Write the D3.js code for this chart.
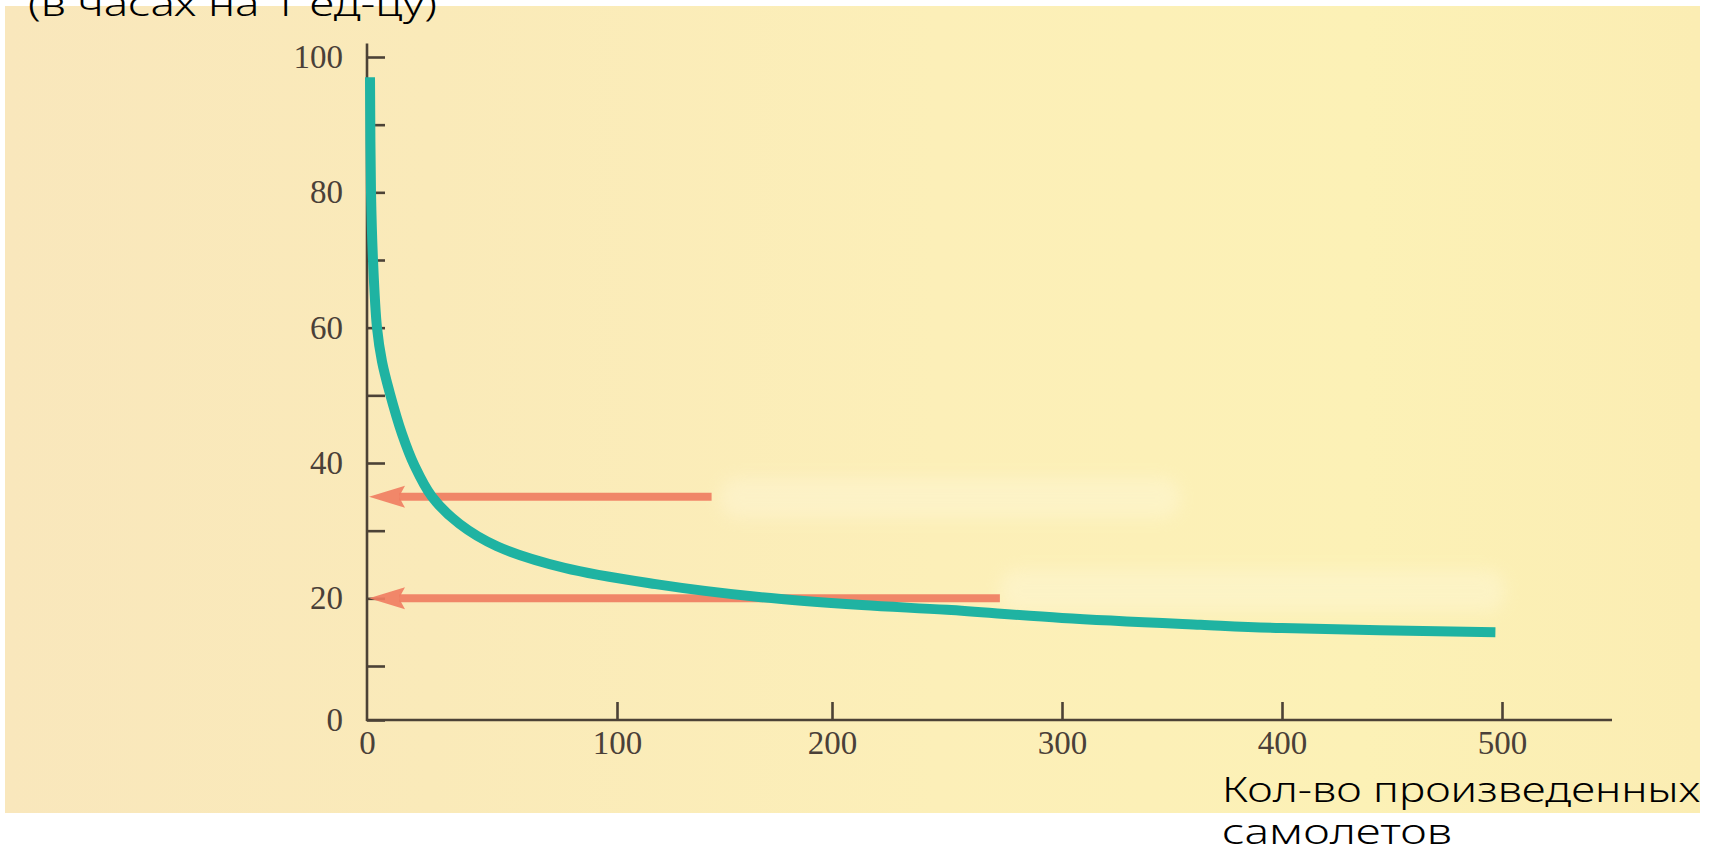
<!DOCTYPE html>
<html>
<head>
<meta charset="utf-8">
<script src="https://cdn.jsdelivr.net/npm/d3@7"></script>
<style>
  html, body { margin: 0; padding: 0; background: #ffffff; overflow: hidden; }
  svg { display: block; }
</style>
</head>
<body>
<svg id="chart" width="1713" height="856"></svg>
<script>
// ---- data ----
const xTicks = [0, 100, 200, 300, 400, 500];
const yTicks = [0, 20, 40, 60, 80, 100];
const yMinorTicks = [10, 30, 50, 70, 90];
// learning curve: hours per unit vs number of planes produced
const units = [1.2, 1.6, 2.4, 4, 6, 9, 14, 19, 26, 37, 52, 79, 118, 166, 213, 250, 300, 363, 400, 497];
const hours = [97, 80, 70, 60, 55, 50.5, 44.3, 39.6, 35, 31, 27.7, 24.5, 22.1, 20.2, 19.0, 18.3, 17.1, 16.1, 15.6, 15.0];
// reading arrows
const arrowLevels = [35, 20];
const arrowFrom = [144, 273];
const titleText = "(в часах на 1 ед-цу)";
const xLabelLines = ["Кол-во произведенных", "самолетов"];

// ---- drawing ----
const svg = d3.select("#chart");

// scanned paper background
const defs = svg.append("defs");
const grad = defs.append("linearGradient").attr("id", "paper")
  .attr("x1", "0%").attr("y1", "0%").attr("x2", "100%").attr("y2", "0%");
[["0%", "#f9e7bc"], ["25%", "#faeab9"], ["55%", "#fcefb8"], ["80%", "#fcf1b6"], ["100%", "#fbedb3"]]
  .forEach(([o, c]) => grad.append("stop").attr("offset", o).attr("stop-color", c));
const blur = defs.append("filter").attr("id", "soft").attr("x", "-20%").attr("y", "-50%").attr("width", "140%").attr("height", "200%");
blur.append("feGaussianBlur").attr("stdDeviation", 8);

svg.append("rect").attr("x", 5).attr("y", 6).attr("width", 1695).attr("height", 807)
  .attr("fill", "url(#paper)");

// faint erased areas on the scan
svg.append("rect").attr("x", 720).attr("y", 478).attr("width", 460).attr("height", 40).attr("rx", 18)
  .attr("fill", "#fffbe6").attr("opacity", 0.32).attr("filter", "url(#soft)");
svg.append("rect").attr("x", 1000).attr("y", 570).attr("width", 505).attr("height", 42).attr("rx", 18)
  .attr("fill", "#fffbe6").attr("opacity", 0.32).attr("filter", "url(#soft)");

const x = d3.scaleLinear().domain(xTicks).range([367, 617, 832, 1062, 1282, 1502]);
const y = d3.scaleLinear().domain([0, 10, 100]).range([720, 666, 57]);

const axisColor = "#4c4236";
const labelFont = "'Liberation Serif', 'DejaVu Serif', serif";

// axis lines
svg.append("line")
  .attr("x1", x(0)).attr("x2", x(0))
  .attr("y1", y(0) + 1).attr("y2", y(102))
  .attr("stroke", axisColor).attr("stroke-width", 2.6);
svg.append("line")
  .attr("x1", x(0) - 1).attr("x2", x(550))
  .attr("y1", y(0)).attr("y2", y(0))
  .attr("stroke", axisColor).attr("stroke-width", 2.6);

// y axis: major (labelled) and minor ticks pointing inward
const yAxisG = svg.append("g").attr("transform", `translate(${x(0)},0)`)
  .call(d3.axisLeft(y).tickValues(yTicks).tickSize(-18).tickSizeOuter(0).tickPadding(24).tickFormat(d3.format("d")));
const yMinorG = svg.append("g").attr("transform", `translate(${x(0)},0)`)
  .call(d3.axisLeft(y).tickValues(yMinorTicks).tickSize(-18).tickSizeOuter(0).tickFormat(""));

// x axis: ticks pointing up, labels below
const xAxisG = svg.append("g").attr("transform", `translate(0,${y(0)})`)
  .call(d3.axisBottom(x).tickValues(xTicks).tickSize(-18).tickSizeOuter(0).tickPadding(11).tickFormat(d3.format("d")));

[yAxisG, yMinorG, xAxisG].forEach(g => {
  g.select(".domain").remove();
  g.selectAll(".tick line").attr("stroke", axisColor).attr("stroke-width", 2.6);
  g.selectAll(".tick text")
    .attr("fill", "#4a4038")
    .style("font-family", labelFont)
    .style("font-size", "33px");
});
xAxisG.selectAll(".tick").filter(d => d === 0).select("line").remove();

// arrows
const arrowColor = "#f07e62";
arrowLevels.forEach((lvl, i) => {
  const yy = y(lvl);
  const tip = x(0) + 2;
  svg.append("line")
    .attr("x1", x(arrowFrom[i])).attr("x2", tip + 30)
    .attr("y1", yy).attr("y2", yy)
    .attr("stroke", arrowColor).attr("stroke-width", 8).attr("opacity", 0.92);
  svg.append("path")
    .attr("d", `M${tip},${yy} L${tip + 36},${yy - 11} L${tip + 30},${yy} L${tip + 36},${yy + 11} Z`)
    .attr("fill", arrowColor).attr("opacity", 0.92);
});

// learning curve
const pts = units.map((u, i) => [u, hours[i]]);
svg.append("path")
  .datum(pts)
  .attr("fill", "none")
  .attr("stroke", "#1fb3a2")
  .attr("stroke-width", 10)
  .attr("stroke-linecap", "butt")
  .attr("stroke-linejoin", "round")
  .attr("d", d3.line().x(d => x(d[0])).y(d => y(d[1])).curve(d3.curveCatmullRom.alpha(0.5)));

// texts
const textFont = "'Noto Sans', 'DejaVu Sans', sans-serif";
svg.append("text")
  .attr("x", 28).attr("y", 16)
  .attr("textLength", 409).attr("lengthAdjust", "spacingAndGlyphs")
  .style("font-family", textFont).style("font-size", "35px").style("font-weight", 300)
  .attr("fill", "#000").text(titleText);

const lineW = [478, 230];
xLabelLines.forEach((t, i) => {
  svg.append("text")
    .attr("x", 1222).attr("y", 802 + i * 42)
    .attr("textLength", lineW[i]).attr("lengthAdjust", "spacingAndGlyphs")
    .style("font-family", textFont).style("font-size", "35px").style("font-weight", 300)
    .attr("fill", "#000").text(t);
});
</script>
</body>
</html>
